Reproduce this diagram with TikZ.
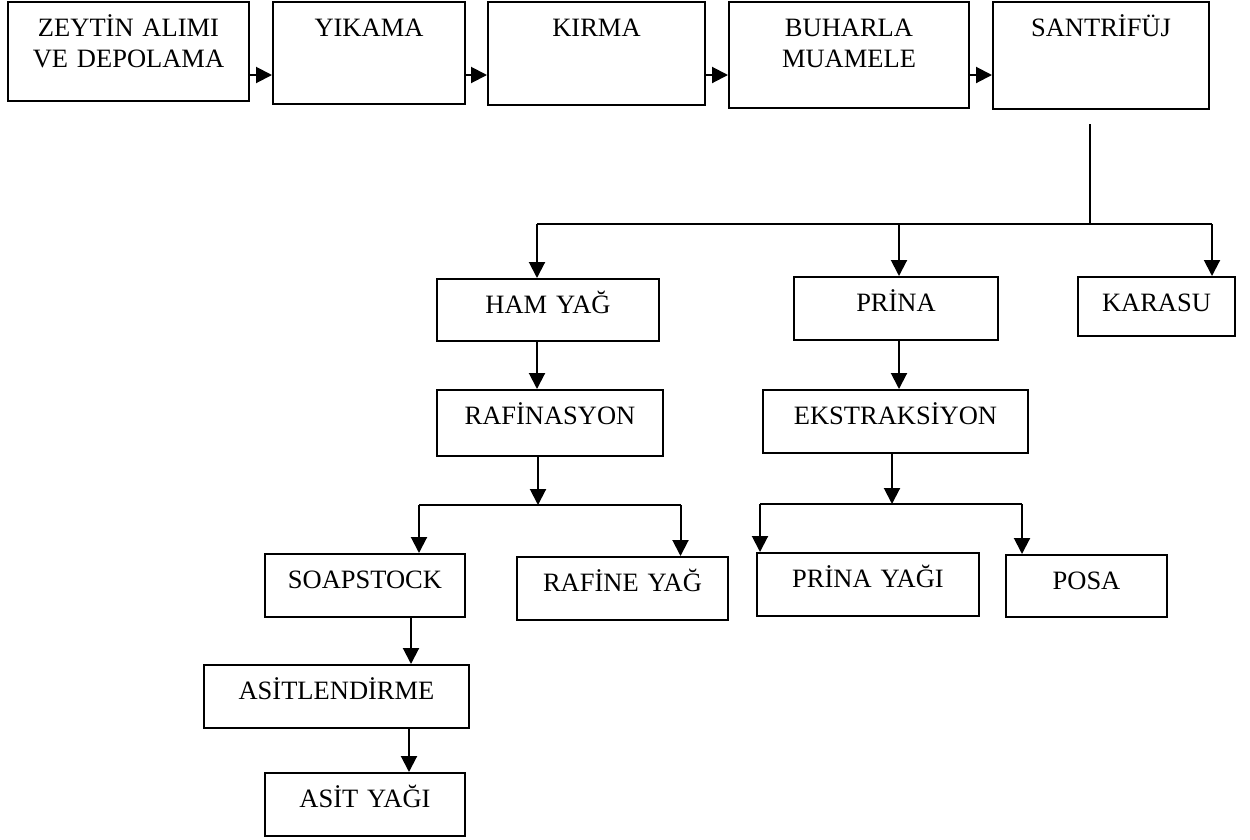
\documentclass[tikz,border=0pt]{standalone}
\usepackage{fontspec}
\setmainfont{Liberation Serif}
\usetikzlibrary{arrows.meta}

\tikzset{
  stage/.style={draw, line width=2pt, inner sep=0pt, anchor=north west, align=center,
    text height=34pt, font=\fontsize{26.5}{31}\selectfont},
  link/.style={line width=2pt},
  arr/.style={link, -{Triangle[length=16pt,width=16pt]}},
}

\begin{document}
\begin{tikzpicture}[x=1pt, y=-1pt]
        \useasboundingbox (0,0) rectangle (1250,839);
        % top row
        \node[stage, text width=241pt, text depth=65pt] (alim) at (7,1) {ZEYTİN ALIMI\\VE DEPOLAMA};
        \node[stage, text width=192pt, text depth=68pt] (yikama) at (272,1) {YIKAMA};
        \node[stage, text width=217pt, text depth=69pt] (kirma) at (487,1) {KIRMA};
        \node[stage, text width=240pt, text depth=72pt] (buhar) at (728,1) {BUHARLA\\MUAMELE};
        \node[stage, text width=216pt, text depth=73pt] (santrifuj) at (992,1) {SANTRİFÜJ};
        \draw[arr] ([yshift=-74pt]alim.north east) -- ([yshift=-74pt]yikama.north west);
        \draw[arr] ([yshift=-74pt]yikama.north east) -- ([yshift=-74pt]kirma.north west);
        \draw[arr] ([yshift=-74pt]kirma.north east) -- ([yshift=-74pt]buhar.north west);
        \draw[arr] ([yshift=-74pt]buhar.north east) -- ([yshift=-74pt]santrifuj.north west);
        % products of the centrifuge
        \node[stage, text width=222pt, text depth=28pt] (hamyag) at (436,278) {HAM YAĞ};
        \node[stage, text width=204pt, text depth=29pt] (prina) at (793,276) {PRİNA};
        \node[stage, text width=157pt, text depth=25pt] (karasu) at (1077,276) {KARASU};
        \coordinate (sdrop) at (1090,124);
        \coordinate (bus) at (0,224);
        \coordinate (hamdrop) at ([xshift=-11pt]hamyag.north);
        \coordinate (prinadrop) at ([xshift=3pt]prina.north);
        \coordinate (karadrop) at ([xshift=-24pt]karasu.north east);
        \draw[link] (sdrop) -- (sdrop |- bus);
        \draw[link] (hamdrop |- bus) -- (karadrop |- bus);
        \draw[arr] (hamdrop |- bus) -- (hamdrop);
        \draw[arr] (prinadrop |- bus) -- (prinadrop);
        \draw[arr] (karadrop |- bus) -- (karadrop);
        % crude oil branch
        \node[stage, text width=226pt, text depth=32pt] (rafinasyon) at (436,389) {RAFİNASYON};
        \node[stage, text width=200pt, text depth=29pt] (soapstock) at (264,553) {SOAPSTOCK};
        \node[stage, text width=211pt, text depth=29pt] (rafineyag) at (516,556) {RAFİNE YAĞ};
        \node[stage, text width=265pt, text depth=29pt] (asitlendirme) at (203,664) {ASİTLENDİRME};
        \node[stage, text width=200pt, text depth=29pt] (asityagi) at (264,772) {ASİT YAĞI};
        \draw[arr] (hamdrop |- hamyag.south) -- (hamdrop |- rafinasyon.north);
        \coordinate (rbus) at (538,505);
        \coordinate (soapdrop) at ([xshift=54pt]soapstock.north);
        \coordinate (rafdrop) at ([xshift=58pt]rafineyag.north);
        \draw[arr] (rbus |- rafinasyon.south) -- (rbus);
        \draw[link] (soapdrop |- rbus) -- (rafdrop |- rbus);
        \draw[arr] (soapdrop |- rbus) -- (soapdrop);
        \draw[arr] (rafdrop |- rbus) -- (rafdrop);
        \draw[arr] ([xshift=46pt]soapstock.south) -- ([xshift=46pt]soapstock.south |- asitlendirme.north);
        \draw[arr] ([xshift=44pt]asityagi.north |- asitlendirme.south) -- ([xshift=44pt]asityagi.north);
        % pomace branch
        \node[stage, text width=265pt, text depth=29pt] (ekstraksiyon) at (762,389) {EKSTRAKSİYON};
        \node[stage, text width=222pt, text depth=29pt] (prinayagi) at (756,552) {PRİNA YAĞI};
        \node[stage, text width=161pt, text depth=28pt] (posa) at (1005,554) {POSA};
        \draw[arr] (prinadrop |- prina.south) -- (prinadrop |- ekstraksiyon.north);
        \coordinate (ebus) at (892,504);
        \coordinate (pyagdrop) at ([xshift=4pt]prinayagi.north west);
        \coordinate (posadrop) at ([xshift=17pt]posa.north west);
        \draw[arr] (ebus |- ekstraksiyon.south) -- (ebus);
        \draw[link] (pyagdrop |- ebus) -- (posadrop |- ebus);
        \draw[arr] (pyagdrop |- ebus) -- (pyagdrop);
        \draw[arr] (posadrop |- ebus) -- (posadrop);
      \end{tikzpicture}
\end{document}
